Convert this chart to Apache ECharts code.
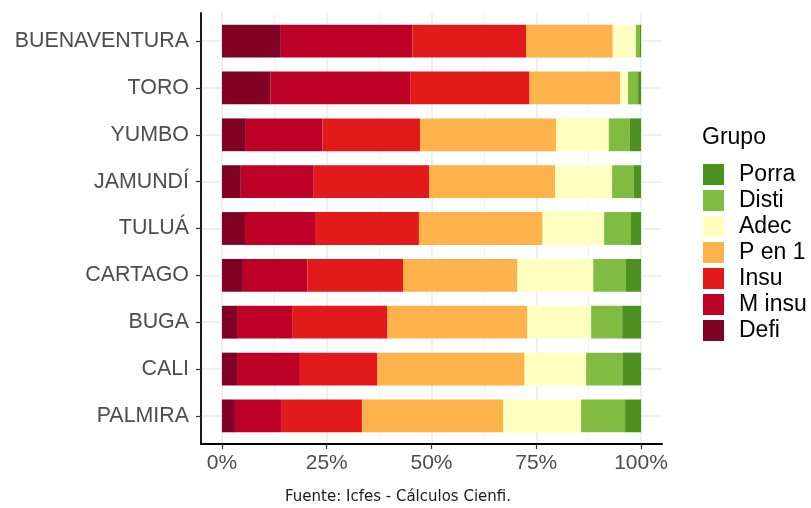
<!DOCTYPE html>
<html>
<head>
<meta charset="utf-8">
<script src="https://cdn.jsdelivr.net/npm/echarts@6/dist/echarts.min.js"></script>
<style>html,body{margin:0;padding:0;background:#fff}#c{width:811px;height:508px}</style>
</head>
<body>
<div id="c"></div>
<script>
var categories = ['BUENAVENTURA', 'TORO', 'YUMBO', 'JAMUNDÍ', 'TULUÁ', 'CARTAGO', 'BUGA', 'CALI', 'PALMIRA'];
var groups = ['Defi', 'M insu', 'Insu', 'P en 1', 'Adec', 'Disti', 'Porra'];
var legendOrder = ['Porra', 'Disti', 'Adec', 'P en 1', 'Insu', 'M insu', 'Defi'];
var defi   = [14.05, 11.6, 5.7, 4.5, 5.5, 5.0, 3.6, 3.6, 3.1];
var minsu  = [31.4, 33.3, 18.3, 17.4, 16.7, 15.4, 13.3, 15.0, 11.0];
var insu   = [27.1, 28.5, 23.3, 27.6, 24.8, 22.8, 22.6, 18.5, 19.3];
var pen1   = [20.7, 21.6, 32.4, 30.0, 29.5, 27.3, 33.4, 35.1, 33.7];
var adec   = [5.5, 1.9, 12.6, 13.6, 14.7, 18.1, 15.2, 14.7, 18.6];
var disti  = [1.0, 2.4, 5.0, 5.2, 6.4, 7.8, 7.4, 8.8, 10.5];
var porra  = [0.25, 0.7, 2.7, 1.7, 2.4, 3.6, 4.5, 4.3, 3.8];
var xTicks = [0, 25, 50, 75, 100];
var xMinor = [12.5, 37.5, 62.5, 87.5];
var caption = 'Fuente: Icfes - Cálculos Cienfi.';

var values = [defi, minsu, insu, pen1, adec, disti, porra];
var colors = ['#800026', '#BD0026', '#E31A1C', '#FEB24C', '#FFFFC0', '#7FBC41', '#4D9221'];

// panel (ggplot-like expansion)
var P = {left: 201, top: 13, width: 461, height: 431};
var xMin = -5, xMax = 105;
var yMin = -0.6, yMax = categories.length - 1 + 0.6;
var yIdx = categories.map(function (c, i) { return i; });
var inner = {
  left: P.left + P.width * (0 - xMin) / (xMax - xMin),
  width: P.width * 100 / (xMax - xMin),
  top: P.top + P.height * (-0.5 - yMin) / (yMax - yMin),
  height: P.height * categories.length / (yMax - yMin)
};

var font = 'Liberation Sans';
var chart = echarts.init(document.getElementById('c'), null, {renderer: 'canvas'});
chart.setOption({
  animation: false,
  backgroundColor: '#fff',
  grid: [
    {left: P.left, top: P.top, width: P.width, height: P.height, containLabel: false},
    {left: inner.left, top: inner.top, width: inner.width, height: inner.height, containLabel: false}
  ],
  xAxis: [
    {
      type: 'value', gridIndex: 0, min: xMin, max: xMax, position: 'bottom',
      axisLine: {show: true, onZero: false, lineStyle: {color: '#000', width: 1.8}},
      axisTick: {show: true, customValues: xTicks, length: 5, lineStyle: {color: '#333', width: 1.2}},
      axisLabel: {show: true, customValues: xTicks, formatter: function (v) { return v + '%'; },
        margin: 9, fontSize: 21, color: '#4D4D4D', fontFamily: font},
      splitLine: {show: true, lineStyle: {color: '#EBEBEB', width: 1.6}}
    },
    {
      type: 'value', gridIndex: 0, min: xMin, max: xMax, position: 'bottom',
      axisLine: {show: false, onZero: false},
      axisTick: {show: false, customValues: xMinor},
      axisLabel: {show: false, customValues: xMinor},
      splitLine: {show: true, lineStyle: {color: '#F2F2F2', width: 0.9}}
    },
    {type: 'value', gridIndex: 1, min: 0, max: 100, show: false}
  ],
  yAxis: [
    {
      type: 'value', gridIndex: 0, min: yMin, max: yMax, inverse: true,
      axisLine: {show: true, onZero: false, lineStyle: {color: '#000', width: 1.8}},
      axisTick: {show: true, customValues: yIdx, length: 5, lineStyle: {color: '#333', width: 1.2}},
      axisLabel: {show: true, customValues: yIdx, formatter: function (v) { return categories[Math.round(v)]; },
        margin: 12, fontSize: 21.4, color: '#4D4D4D', fontFamily: font},
      splitLine: {show: true, lineStyle: {color: '#EBEBEB', width: 1.6}}
    },
    {type: 'category', gridIndex: 1, data: categories, inverse: true, show: false}
  ],
  title: {
    text: 'Grupo', left: 702, top: 126, padding: 0,
    textStyle: {fontSize: 23, fontWeight: 'normal', color: '#000', fontFamily: font}
  },
  legend: {
    data: legendOrder, orient: 'vertical', left: 703, top: 163, padding: 0,
    icon: 'rect', itemWidth: 21, itemHeight: 21, itemGap: 3,
    textStyle: {fontSize: 23, lineHeight: 21, color: '#000', fontFamily: font, padding: [0, 0, 0, 10]},
    selectedMode: false
  },
  graphic: [{
    type: 'text', left: 285, top: 490,
    style: {text: caption, fontSize: 15, fill: '#1A1A1A', fontFamily: 'DejaVu Sans'}
  }],
  series: groups.map(function (g, i) {
    return {
      name: g, type: 'bar', stack: 'all', xAxisIndex: 2, yAxisIndex: 1,
      data: values[i], barWidth: '70%', itemStyle: {color: colors[i]},
      emphasis: {disabled: true}
    };
  })
});
</script>
</body>
</html>
